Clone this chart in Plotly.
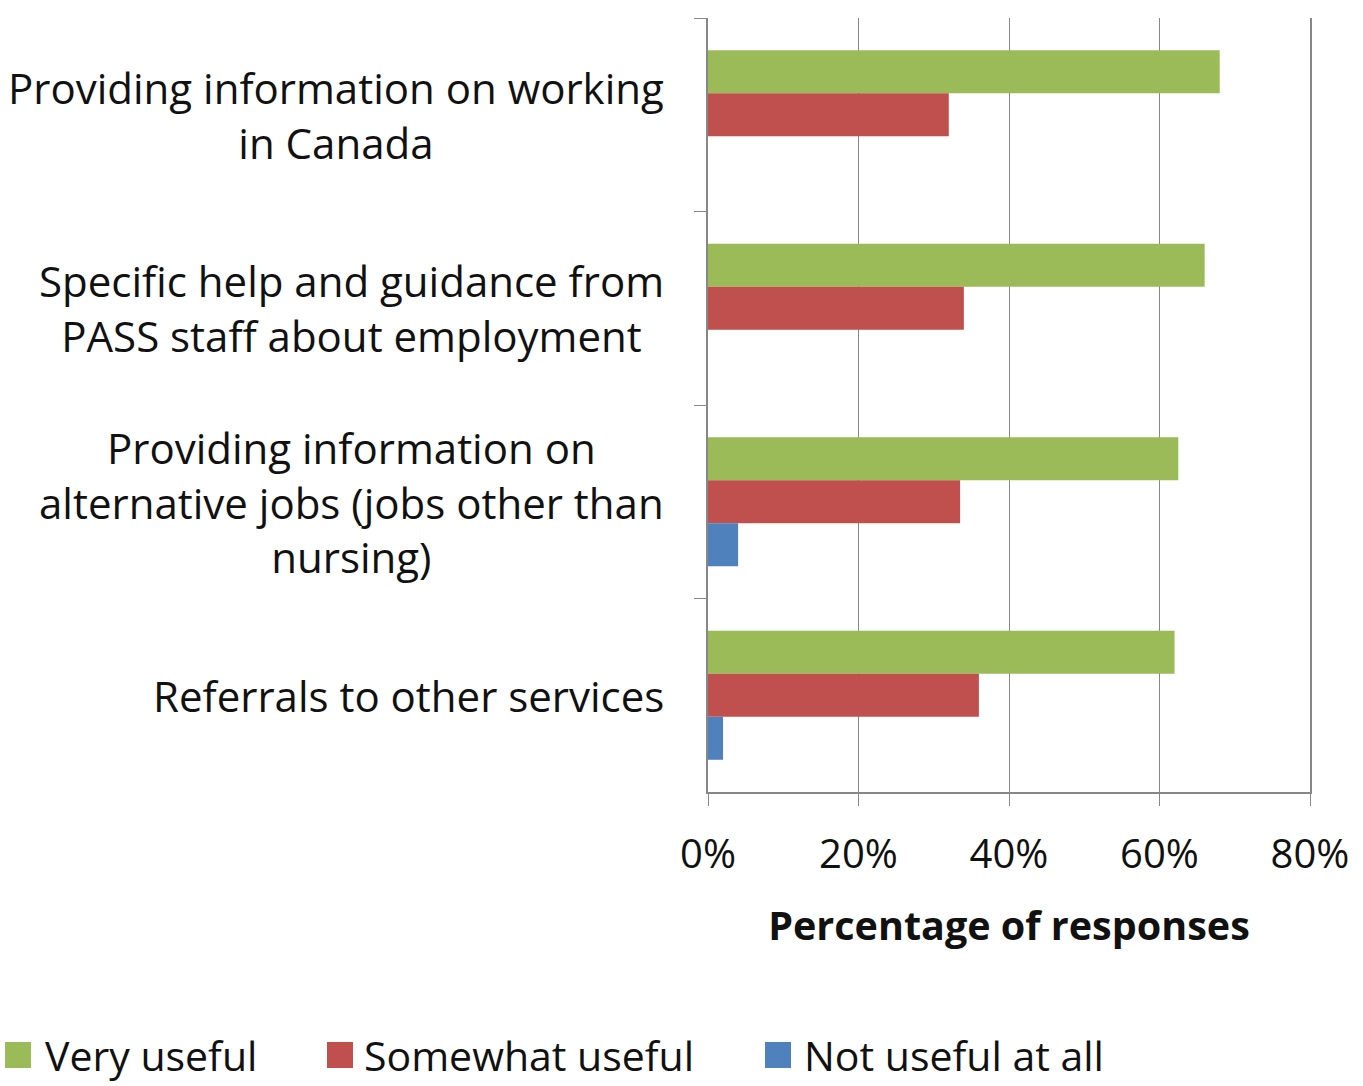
import plotly.graph_objects as go

# Survey results: usefulness of PASS employment services
categories = [
    "Providing information on working in Canada",
    "Specific help and guidance from PASS staff about employment",
    "Providing information on alternative jobs (jobs other than nursing)",
    "Referrals to other services",
]
category_labels = [
    "Providing information on working<br>in Canada",
    "Specific help and guidance from<br>PASS staff about employment",
    "Providing information on<br>alternative jobs (jobs other than<br>nursing)",
    "Referrals to other services",
]
very_useful = [0.68, 0.66, 0.625, 0.62]
somewhat_useful = [0.32, 0.34, 0.335, 0.36]
not_useful_at_all = [0.0, 0.0, 0.04, 0.02]

series_names = ["Very useful", "Somewhat useful", "Not useful at all"]
series_values = [very_useful, somewhat_useful, not_useful_at_all]
series_colors = ["#9BBB59", "#C0504D", "#4F81BD"]

x_tick_values = [0, 0.2, 0.4, 0.6, 0.8]
x_title = "Percentage of responses"

# Page geometry
W, H = 1363, 1086
M_L, M_R, M_T, M_B = 708, 53, 18, 294
PLOT_W = W - M_L - M_R
PLOT_H = H - M_T - M_B

FONT = "Open Sans"
AXIS_GREY = "#878787"
TEXT = "#111111"


def px_to_paper_x(px):
    return (px - M_L) / PLOT_W


def px_to_paper_y(py):
    return (H - M_B - py) / PLOT_H


fig = go.Figure()
for name, values, color in zip(series_names, series_values, series_colors):
    fig.add_trace(
        go.Bar(
            name=name,
            y=categories,
            x=values,
            orientation="h",
            marker=dict(color=color, line=dict(width=0)),
            showlegend=False,
        )
    )

# Category labels: right-aligned block, lines centred within it
annotations = []
for cat, label in zip(categories, category_labels):
    annotations.append(
        dict(
            x=0, xref="paper", xanchor="right", xshift=-42,
            y=cat, yref="y", yanchor="middle",
            text=label, align="center", showarrow=False,
            font=dict(family=FONT, size=42, color=TEXT),
        )
    )

# Legend row along the bottom
legend_items = [(5, 43), (327, 362), (765, 802)]
legend_y = 1055
swatch = 26
shapes = []
for (sx, tx), name, color in zip(legend_items, series_names, series_colors):
    shapes.append(
        dict(
            type="rect", xref="paper", yref="paper",
            x0=px_to_paper_x(sx), x1=px_to_paper_x(sx + swatch),
            y0=px_to_paper_y(legend_y + swatch / 2), y1=px_to_paper_y(legend_y - swatch / 2),
            fillcolor=color, line=dict(width=0),
        )
    )
    annotations.append(
        dict(
            x=px_to_paper_x(tx), xref="paper", xanchor="left",
            y=px_to_paper_y(legend_y), yref="paper", yanchor="middle",
            text=name, showarrow=False,
            font=dict(family=FONT, size=41, color=TEXT),
        )
    )

fig.update_layout(
    width=W, height=H,
    margin=dict(l=M_L, r=M_R, t=M_T, b=M_B, pad=0),
    paper_bgcolor="white", plot_bgcolor="white",
    barmode="group", bargap=0.333, bargroupgap=0,
    font=dict(family=FONT, color=TEXT),
    annotations=annotations,
    shapes=shapes,
)
fig.update_xaxes(
    range=[0, 0.8],
    tickvals=x_tick_values,
    tickformat=".0%",
    tickfont=dict(family=FONT, size=40, color=TEXT),
    ticks="outside", ticklen=12, tickcolor=AXIS_GREY,
    ticklabelstandoff=14,
    showgrid=True, gridcolor=AXIS_GREY, gridwidth=1,
    showline=True, linecolor=AXIS_GREY, linewidth=1.5,
    zeroline=False,
    title=dict(
        text="<b>" + x_title + "</b>",
        font=dict(family=FONT, size=39.5, color=TEXT),
        standoff=34,
    ),
)
# Mirrored y-axis line supplies the 80% gridline at the right edge
fig.update_yaxes(
    type="category",
    autorange="reversed",
    showticklabels=False,
    ticks="outside", tickson="boundaries", ticklen=12, tickcolor=AXIS_GREY,
    showline=True, linecolor=AXIS_GREY, linewidth=1.5, mirror=True,
    showgrid=False, zeroline=False,
)

fig.write_html("out.html")
